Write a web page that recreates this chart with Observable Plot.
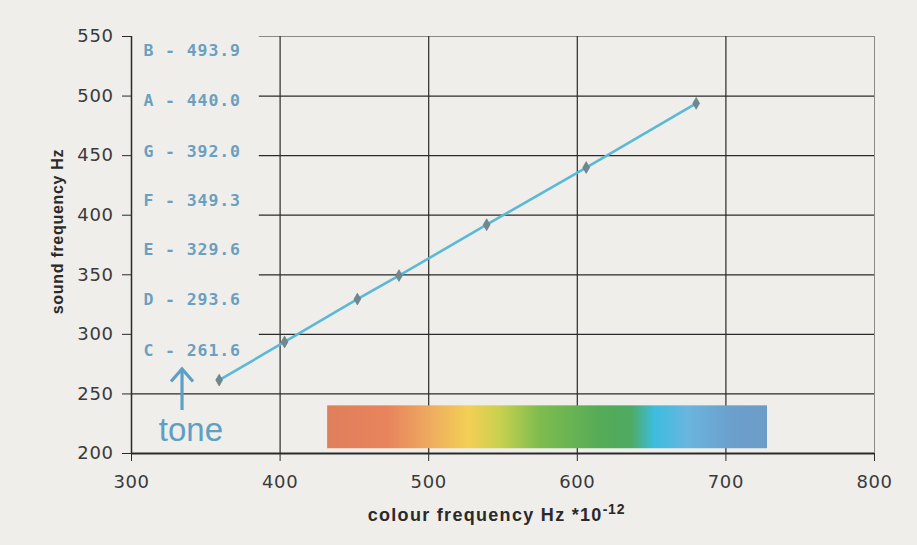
<!DOCTYPE html>
<html>
<head>
<meta charset="utf-8">
<script src="https://cdn.jsdelivr.net/npm/d3@7"></script>
<script src="https://cdn.jsdelivr.net/npm/@observablehq/plot@0.6"></script>
<style>
  html, body { margin: 0; padding: 0; background: #efeeea; }
  #chart svg { display: block; }
</style>
</head>
<body>
<div id="chart"></div>
<script>
// ---- data ----
const notes = ["C", "D", "E", "F", "G", "A", "B"];
const soundHz = [261.6, 293.6, 329.6, 349.3, 392.0, 440.0, 493.9];
const colourHz = [359, 403, 452, 480, 539, 606, 680];
const labelY = [286, 329, 371, 412, 453, 496, 538];
const xTicks = [300, 400, 500, 600, 700, 800];
const yTicks = [200, 250, 300, 350, 400, 450, 500, 550];
const xGrid = [400, 500, 600, 700];
const yGrid = [250, 300, 350, 400, 450, 500];
const labelBox = [{x1: 300, x2: 386, y1: 258, y2: 550}];
const spectrumBar = [{x1: 432, x2: 728, y1: 204, y2: 240}];
const spectrumStops = [
  [0.00, "#e07f5c"], [0.14, "#e8845c"], [0.24, "#efae60"], [0.32, "#f3cf55"],
  [0.39, "#cbd14f"], [0.48, "#80bd4e"], [0.62, "#55ab57"], [0.69, "#4eaa62"],
  [0.745, "#3dbde0"], [0.82, "#6ab5df"], [0.92, "#6c9fcc"], [1.00, "#6e9cc8"]
];
const toneArrow = [{x1: 334, y1: 236.5, x2: 334, y2: 271}];
const toneText = [{x: 340, y: 219, text: "tone"}];
const xTitle = "colour frequency Hz *10";
const xTitleExp = "-12";
const yTitle = "sound frequency Hz";

const points = notes.map((n, i) => ({note: n, x: colourHz[i], y: soundHz[i], ly: labelY[i],
  label: `${n} - ${soundHz[i].toFixed(1)}`}));

const bg = "#efeeea";
const labelBlue = "#6b9fc0";
const toneBlue = "#5e9fc4";

const defsMark = () => {
  const defs = d3.create("svg:defs");
  const g = defs.append("linearGradient").attr("id", "spectrum")
    .attr("x1", "0%").attr("x2", "100%").attr("y1", "0%").attr("y2", "0%");
  spectrumStops.forEach(([o, c]) => g.append("stop").attr("offset", o).attr("stop-color", c));
  return defs.node();
};

// open chevron symbol for the arrow head
const chevron = {
  draw(context, size) {
    const s = Math.sqrt(size / Math.PI);
    context.moveTo(-s, s * 1.15);
    context.lineTo(0, 0);
    context.lineTo(s, s * 1.15);
  }
};

const chart = Plot.plot({
  width: 917,
  height: 545,
  marginLeft: 131,
  marginRight: 43,
  marginTop: 36,
  marginBottom: 92,
  style: {background: bg, fontFamily: "DejaVu Sans", overflow: "visible"},
  x: {domain: [300, 800], ticks: xTicks},
  y: {domain: [200, 550], ticks: yTicks},
  marks: [
    defsMark,
    Plot.frame({stroke: "#8a8a88", strokeWidth: 1}),
    Plot.ruleX(xGrid, {stroke: "#2a2a2a", strokeWidth: 1.2}),
    Plot.ruleY(yGrid, {stroke: "#2a2a2a", strokeWidth: 1.2}),
    Plot.rect(labelBox, {x1: "x1", x2: "x2", y1: "y1", y2: "y2", fill: bg}),
    Plot.rect(spectrumBar, {x1: "x1", x2: "x2", y1: "y1", y2: "y2", fill: "url(#spectrum)"}),
    Plot.ruleX([300], {stroke: "#2a2a2a", strokeWidth: 1.5}),
    Plot.ruleY([200], {stroke: "#2a2a2a", strokeWidth: 2}),
    Plot.axisY({ticks: yTicks, tickSize: 9, tickPadding: 9, tickFormat: d => d, fontSize: 18, fill: "#3a3a3a",
      stroke: "#2a2a2a", label: null}),
    Plot.axisX({ticks: xTicks, tickSize: 8, tickPadding: 14, tickFormat: d => d, fontSize: 18, fill: "#3a3a3a",
      stroke: "#2a2a2a", label: null}),
    Plot.text([yTitle], {frameAnchor: "left", textAnchor: "middle", dx: -74, dy: -13.5, rotate: -90,
      fontFamily: "Liberation Sans", fontWeight: "bold", fontSize: 16, fill: "#2a2a2a"}),
    Plot.text([xTitle], {frameAnchor: "bottom", dy: 67, dx: -6.5, textAnchor: "middle",
      fontFamily: "Liberation Sans", fontWeight: "bold", fontSize: 18, fill: "#2a2a2a"}),
    Plot.line(points, {x: "x", y: "y", stroke: "#5bb9d7", strokeWidth: 2.6}),
    Plot.dot(points, {x: "x", y: "y", symbol: "diamond", r: 3.6, fill: "#6f8890", stroke: "#5f7880", strokeWidth: 0.6}),
    Plot.text(points, {x: 308, y: "ly", text: "label", textAnchor: "start", fontFamily: "DejaVu Sans Mono",
      fontWeight: "bold", fontSize: 16.5, fill: labelBlue}),
    Plot.link(toneArrow, {x1: "x1", y1: "y1", x2: "x2", y2: "y2", stroke: toneBlue, strokeWidth: 3.2}),
    Plot.dot(toneArrow, {x: "x2", y: "y2", symbol: chevron, r: 11, fill: "none", stroke: toneBlue,
      strokeWidth: 3.2, strokeLinejoin: "miter"}),
    Plot.text(toneText, {x: "x", y: "y", text: "text", fontFamily: "Liberation Sans", fontSize: 33,
      fill: toneBlue})
  ]
});
document.getElementById("chart").append(chart);
const svg = d3.select(chart);
svg.selectAll("text").filter(function() { return this.textContent.includes(" - "); })
  .attr("letter-spacing", 0.9);
svg.selectAll("text").filter(function() { return this.textContent === yTitle; })
  .attr("letter-spacing", 0.7);
svg.selectAll("text").filter(function() { return /^\d{3}$/.test(this.textContent); })
  .attr("letter-spacing", 0.6);
svg.selectAll("text").filter(function() { return this.textContent === xTitle; })
  .each(function() {
    const t = d3.select(this);
    t.attr("letter-spacing", 1.3);
    t.append("tspan").attr("dy", "-0.5em").attr("font-size", 14).attr("letter-spacing", 0.8).text(xTitleExp);
  });
</script>
</body>
</html>
